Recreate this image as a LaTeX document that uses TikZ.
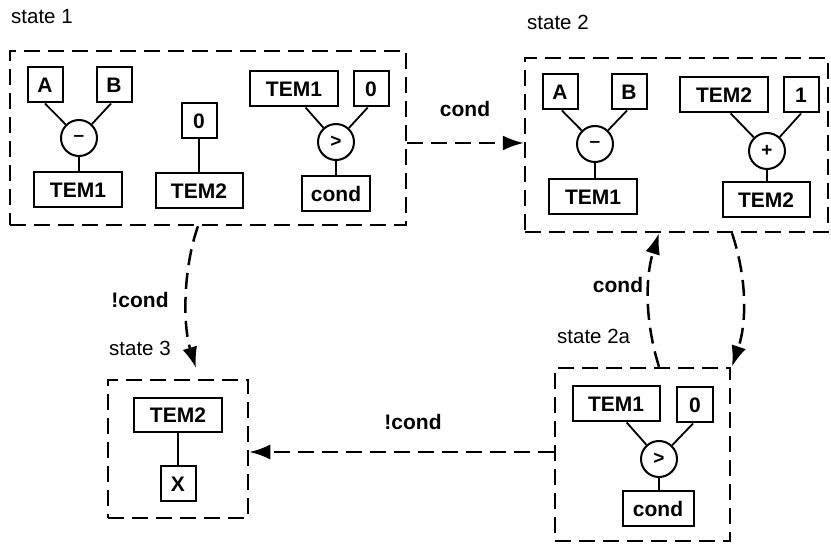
\documentclass[tikz,border=0pt]{standalone}
\usepackage{fontspec}
\setmainfont{Liberation Sans}
\usetikzlibrary{arrows.meta}
\begin{document}
\begin{tikzpicture}[x=1pt,y=-1pt,
  statebox/.style={draw, rectangle, dash pattern=on 16pt off 8pt, line width=2.5pt, inner sep=0pt},
  vbox/.style={draw, rectangle, line width=2pt, inner sep=0pt, minimum height=35pt, font=\fontsize{21}{24}\selectfont\bfseries},
  opnode/.style={draw, circle, line width=2pt, minimum size=36pt, inner sep=0pt, font=\fontsize{19}{22}\selectfont\bfseries},
  wire/.style={line width=1.8pt},
  trans/.style={line width=2.5pt, dash pattern=on 16pt off 8pt, -{Latex[length=21pt,width=15pt]}},
  tlbl/.style={font=\fontsize{21}{24}\selectfont\bfseries, inner sep=0pt},
  slbl/.style={font=\fontsize{20.5}{24}\selectfont, inner sep=0pt, anchor=west},
]
\useasboundingbox (0,0) rectangle (831,545);

% state boxes
\node[statebox, minimum width=396pt, minimum height=174pt] (s1) at (208,138) {};
\node[statebox, minimum width=303pt, minimum height=174pt] (s2) at (676.5,145) {};
\node[statebox, minimum width=140pt, minimum height=138pt] (s3) at (178,449) {};
\node[statebox, minimum width=175pt, minimum height=173pt] (s2a) at (642.5,454.5) {};

% state labels
\node[slbl] (l1) at (11,17) {state 1};
\node[slbl] (l2) at (527,22) {state 2};
\node[slbl] (l3) at (109,348) {state 3};
\node[slbl] (l2a) at (557,336) {state 2a};

% ---- state 1 contents
\node[vbox, minimum width=35pt] (a1) at (45,85) {A};
\node[vbox, minimum width=35pt] (b1) at (114,85) {B};
\node[opnode] (m1) at (79,138) {\textendash};
\node[vbox, minimum width=88pt] (t1) at (78,190) {TEM1};
\node[vbox, minimum width=35pt] (z1) at (199,121) {0};
\node[vbox, minimum width=87pt] (t2) at (199,191) {TEM2};
\node[vbox, minimum width=88pt] (t3) at (294,89) {TEM1};
\node[vbox, minimum width=35pt] (z2) at (371,89) {0};
\node[opnode] (g1) at (336,142) {>};
\node[vbox, minimum width=68pt] (c1) at (336,194) {cond};

\draw[wire] (a1.south) -- (m1);
\draw[wire] ([xshift=-3pt]b1.south) -- (m1);
\draw[wire] (m1.south) -- (m1.south |- t1.north);
\draw[wire] (z1.south) -- (z1.south |- t2.north);
\draw[wire] (t3.-58) -- (g1);
\draw[wire] (z2.-100) -- (g1);
\draw[wire] (g1.south) -- (g1.south |- c1.north);

% ---- state 2 contents
\node[vbox, minimum width=35pt] (a2) at (560,92) {A};
\node[vbox, minimum width=35pt] (b2) at (629,92) {B};
\node[opnode] (m2) at (595,144) {\textendash};
\node[vbox, minimum width=88pt] (t4) at (593,197) {TEM1};
\node[vbox, minimum width=88pt] (t5) at (724,95) {TEM2};
\node[vbox, minimum width=35pt] (o1) at (801,95) {1};
\node[opnode] (p1) at (767,151) {+};
\node[vbox, minimum width=87pt] (t6) at (766,200) {TEM2};

\draw[wire] ([xshift=2pt]a2.south) -- (m2);
\draw[wire] ([xshift=-2pt]b2.south) -- (m2);
\draw[wire] (m2.south) -- (m2.south |- t4.north);
\draw[wire] (t5.-70) -- (p1);
\draw[wire] (o1.south) -- (p1);
\draw[wire] (p1.south) -- (p1.south |- t6.north);

% ---- state 3 contents
\node[vbox, minimum width=88pt, minimum height=34pt] (t7) at (178,415) {TEM2};
\node[vbox, minimum width=35pt] (x1) at (178,484) {X};
\draw[wire] (t7.south) -- (x1.north);

% ---- state 2a contents
\node[vbox, minimum width=87pt] (t8) at (616,404) {TEM1};
\node[vbox, minimum width=36pt] (z3) at (695,405) {0};
\node[opnode] (g2) at (659,459) {>};
\node[vbox, minimum width=71pt] (c2) at (658,509) {cond};

\draw[wire] (t8.-60) -- (g2);
\draw[wire] ([xshift=-2pt]z3.south) -- (g2);
\draw[wire] (g2.south) -- (g2.south |- c2.north);

% ---- transitions
\coordinate (h1) at (0,143);
\coordinate (k1) at (198,0);
\coordinate (e3) at (196,368);
\coordinate (u1) at (659,0);
\coordinate (d1) at (732,0);
\coordinate (h2) at (0,452);

% state 1 -> state 2
\draw[trans] (s1.east |- h1) -- (s2.west |- h1);
\node[tlbl] (lc1) at (465,109) {cond};

% state 1 -> state 3
\draw[trans] (s1.south -| k1) .. controls (184,265) and (182,322) .. (e3);
\node[tlbl] (lc2) at (140,300) {!cond};

% state 2a -> state 2
\draw[trans] (s2a.north -| u1) .. controls (645,322) and (645,278) .. (s2.south -| u1);
\node[tlbl] (lc3) at (618,285) {cond};

% state 2 -> state 2a
\draw[trans] (s2.south -| d1) .. controls (747,278) and (747,322) .. (s2a.north -| d1);

% state 2a -> state 3
\draw[trans] (s2a.west |- h2) -- (s3.east |- h2);
\node[tlbl] (lc4) at (413,422) {!cond};

\end{tikzpicture}
\end{document}
